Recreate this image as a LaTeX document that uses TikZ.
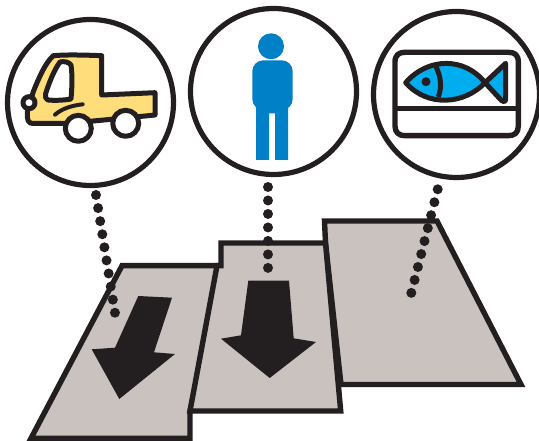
\documentclass[tikz,border=0pt]{standalone}
\usepackage{xcolor}
\usetikzlibrary{positioning}
\definecolor{inkblack}{RGB}{35,31,32}
\definecolor{plategray}{RGB}{201,194,191}
\definecolor{truckyellow}{RGB}{255,221,122}
\definecolor{personblue}{RGB}{0,128,198}
\definecolor{fishblue}{RGB}{0,174,239}
\begin{document}
\begin{tikzpicture}[x=1pt,y=-1pt,
  badge/.style={draw=inkblack, line width=5.2pt, circle, inner sep=0pt, minimum size=166pt, fill=white},
  plate/.style={draw=inkblack, fill=plategray, line width=5.4pt, miter limit=10},
  flow/.style={fill=inkblack},
  ink/.style={draw=inkblack, line width=#1, line join=round},
  dots/.style={draw=inkblack, line width=10pt, line cap=round, dash pattern=on 0pt off #1pt}]
  \useasboundingbox (0,0) rectangle (539,441);

  \draw[plate] (122,265.7) -- (222,265.7) -- (190,411) -- (190,438.3) -- (31,438.3) -- cycle;
  \draw[plate] (324.5,221) -- (437,221) -- (521,384.5) -- (341,384.5) -- (325.5,243) -- cycle;
  \draw[plate] (221,243) -- (325.5,243) -- (340.7,411) -- (190,411) -- (217,265.7) -- (221,265.7) -- cycle;

  \fill[flow] (138.3,296) -- (172,297.7) -- (154,352.3) -- (175,354) -- (119.3,399) -- (91.7,349.3) -- (115,347.7) -- cycle;
  \fill[flow] (248.3,280.7) -- (289,280.7) -- (293.7,338.3) -- (316,342) -- (269.7,378) -- (221,338.7) -- (241,335.3) -- cycle;

  \node[badge] (truckbadge) at (90.5,102.5) {};
  \node[badge] (personbadge) at (273.5,91.5) {};
  \node[badge] (fishbadge) at (456.5,94.5) {};

  \coordinate (truckdotA) at (96,195);
  \coordinate (truckdotB) at (115,313);
  \coordinate (persondotA) at (268,187);
  \coordinate (persondotB) at (268,268);
  \coordinate (fishdotA) at (437.7,189.3);
  \coordinate (fishdotB) at (411.3,293);
  \draw[dots=13.25] (truckdotA) -- (truckdotB);
  \draw[dots=13.48] (persondotA) -- (persondotB);
  \draw[dots=13.36] (fishdotA) -- (fishdotB);

  \draw[ink=5pt, fill=truckyellow] (53.3,55.7) .. controls (65,54.5) and (85,55) .. (101.7,55.7) -- (101.7,95) -- (155,92.7) -- (155,115) -- (125,118) -- (66.7,123.5) -- (33,123.5) .. controls (28,123.5) and (27,120) .. (27.3,111.7) -- (33.3,91.7) .. controls (38,80) and (45,63) .. (53.3,55.7) -- cycle;
  \draw[ink=5pt, fill=white] (60,62) .. controls (64,61) and (69,62) .. (71,65) .. controls (72.5,75) and (72,88) .. (71,99) .. controls (63,100.5) and (53,100.5) .. (48,100) .. controls (45.5,99) and (45,97) .. (45.5,94) .. controls (49,83) and (54,70) .. (60,62) -- cycle;
  \draw[ink=5pt, fill=white] (29,102.7) circle (6);
  \draw[ink=4pt, line cap=round] (55,114.7) .. controls (62,108.5) and (72,105.5) .. (82.7,104.3);
  \draw[ink=5pt, fill=white] (78.3,128.3) circle (13);
  \draw[ink=5pt, fill=white] (125.7,123.3) circle (13);

  \fill[personblue] (271,46.3) circle (13);
  \fill[personblue, rounded corners=11pt] (252.3,60.3) rectangle (292.7,110);
  \fill[personblue] (256,100) -- (288,100) -- (288,160) -- (275,160) -- (275,113.3) -- (269,113.3) -- (269,160) -- (256,160) -- cycle;

  \draw[ink=5.4pt] (395,62) .. controls (395,55) and (399,52.3) .. (405,52.3) -- (508,52.3) .. controls (515,52.3) and (518.3,55) .. (518.3,62) -- (518.3,126) .. controls (518.3,132.5) and (515,135.7) .. (508,135.7) -- (405,135.7) .. controls (399,135.7) and (395,132.5) .. (395,126) -- cycle;
  \draw[ink=4.6pt] (395,108.7) -- (518.3,108.7);
  \draw[ink=5pt, fill=fishblue] (405.7,82.7) .. controls (428,57) and (465,57) .. (485,82.7) -- (505.7,63.3) -- (505.7,100) .. controls (505.7,102) and (503,102.5) .. (501.5,100.5) -- (485,82.7) .. controls (465,104) and (428,108) .. (405.7,82.7) -- cycle;
  \draw[ink=5pt] (436,66.7) .. controls (441,77) and (442,87) .. (438.3,97);
  \fill[inkblack] (426,81.7) circle (4.5);
\end{tikzpicture}
\end{document}
